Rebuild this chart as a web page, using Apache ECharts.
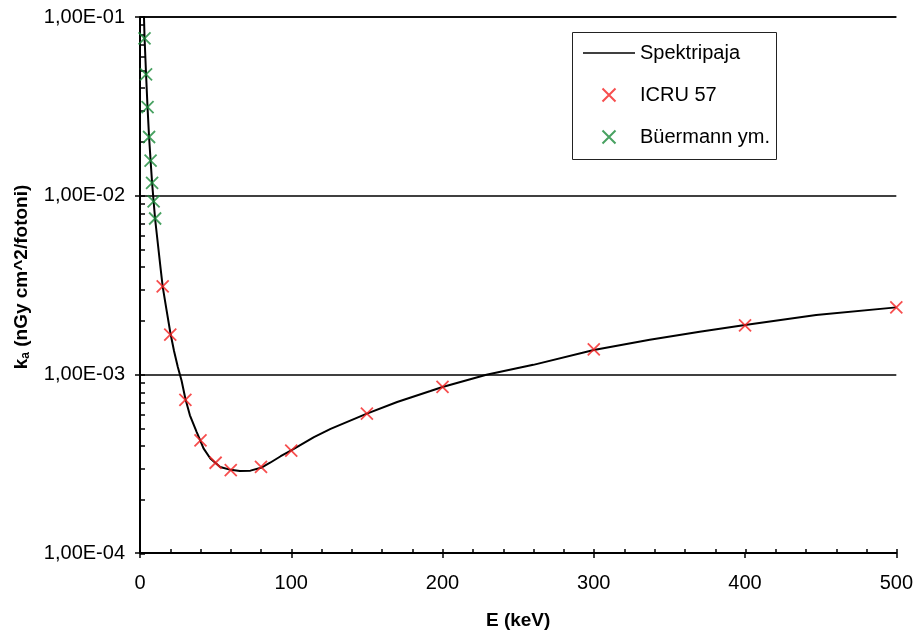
<!DOCTYPE html>
<html>
<head>
<meta charset="utf-8">
<script src="https://cdn.jsdelivr.net/npm/echarts@6/dist/echarts.min.js"></script>
<style>
html,body{margin:0;padding:0;background:#fff;}
#c{width:916px;height:635px;}
</style>
</head>
<body>
<div id="c"></div>
<script>
// Spektripaja (calculated curve)
const lineE = [2.5, 3, 4, 5, 6, 7, 8, 9, 10, 11, 13.5, 15, 17.5, 20, 22.5, 25, 27.5, 30, 33, 37.5, 42, 46.5, 53, 60, 66, 73, 80, 86, 93, 100, 115, 126, 150, 170, 192, 200, 229, 260, 300, 337, 370, 400, 447, 500];
const lineK = [0.11, 0.077, 0.048, 0.031, 0.0213, 0.0157, 0.0118, 0.0093, 0.0074, 0.0062, 0.0040, 0.0031, 0.0023, 0.00172, 0.00135, 0.00110, 0.00092, 0.00073, 0.00059, 0.000475, 0.000385, 0.000338, 0.000303, 0.000292, 0.000288, 0.000289, 0.000300, 0.000320, 0.000348, 0.000375, 0.000445, 0.000495, 0.000603, 0.000700, 0.000807, 0.000850, 0.000995, 0.00113, 0.00137, 0.00156, 0.00173, 0.00189, 0.00215, 0.00237];
// ICRU 57
const icruE = [15, 20, 30, 40, 50, 60, 80, 100, 150, 200, 300, 400, 500];
const icruK = [0.00311, 0.00167, 0.00072, 0.000427, 0.00032, 0.000291, 0.000303, 0.000374, 0.000603, 0.000852, 0.00138, 0.00188, 0.00237];
// Büermann ym.
const buerE = [3, 4, 5, 6, 7, 8, 9, 10];
const buerK = [0.076, 0.0478, 0.0313, 0.0213, 0.0157, 0.01178, 0.00929, 0.00745];
// axis tick labels
const xTickLabels = ['0', '100', '200', '300', '400', '500'];
const yTickLabels = ['1,00E-04', '1,00E-03', '1,00E-02', '1,00E-01'];

const zip = (a, b) => a.map((v, i) => [v, b[i]]);
const FONT = 'Liberation Sans';
const crossPath = 'path://M0,0L10,10M10,0L0,10';
const lineIcon = 'path://M0,0L52,0L52,1.6L0,1.6Z';

const chart = echarts.init(document.getElementById('c'), null, {renderer: 'canvas'});
const gridPos = {left: 140, right: 19, top: 17, bottom: 81};

const option = {
  backgroundColor: '#ffffff',
  animation: false,
  textStyle: {fontFamily: FONT},
  grid: [Object.assign({}, gridPos), Object.assign({}, gridPos)],
  graphic: [{
    type: 'rect', z: 3,
    shape: {x: 572.5, y: 32.5, width: 204, height: 127},
    style: {fill: '#ffffff', stroke: '#222', lineWidth: 1}
  }],
  legend: {
    orient: 'vertical', left: 583, top: 43, padding: 0,
    itemWidth: 52, itemHeight: 13, itemGap: 22, z: 5,
    textStyle: {fontFamily: FONT, fontSize: 20, color: '#000', lineHeight: 20},
    data: [{name: 'Spektripaja', icon: lineIcon}, 'ICRU 57', 'Büermann ym.']
  },
  xAxis: [{
    gridIndex: 0, type: 'value', min: 0, max: 500, interval: 100,
    name: 'E (keV)', nameLocation: 'middle', nameGap: 58,
    nameTextStyle: {fontFamily: FONT, fontSize: 19, fontWeight: 'bold', color: '#000'},
    axisLine: {show: true, onZero: false, lineStyle: {color: '#000', width: 2}},
    axisTick: {show: true, inside: false, length: 5, lineStyle: {color: '#000', width: 1.5}},
    minorTick: {show: false},
    splitLine: {show: false},
    axisLabel: {fontFamily: FONT, fontSize: 20, color: '#000', margin: 20,
      formatter: v => xTickLabels[Math.round(v / 100)]}
  }, {
    gridIndex: 1, type: 'value', min: 0, max: 500, interval: 100,
    axisLine: {show: false, onZero: false},
    axisTick: {show: true, inside: true, length: 5, lineStyle: {color: '#000', width: 1.5}},
    minorTick: {show: true, splitNumber: 5, length: 5, lineStyle: {color: '#000', width: 1.5}},
    splitLine: {show: false},
    axisLabel: {show: false}
  }],
  yAxis: [{
    gridIndex: 0, type: 'log', logBase: 10, min: 0.0001, max: 0.1,
    name: '{k|k}{a|a}{t| (nGy cm^2/fotoni)}', nameLocation: 'middle', nameGap: 108, nameRotate: 90,
    nameTextStyle: {fontFamily: FONT, fontSize: 19, fontWeight: 'bold', color: '#000', padding: [0, 0, 0, 16],
      rich: {
        k: {fontFamily: FONT, fontSize: 19, fontWeight: 'bold', color: '#000'},
        a: {fontFamily: FONT, fontSize: 12, fontWeight: 'bold', color: '#000', verticalAlign: 'bottom', padding: [8, 0, 0, 0]},
        t: {fontFamily: FONT, fontSize: 19, fontWeight: 'bold', color: '#000'}
      }},
    axisLine: {show: true, onZero: false, lineStyle: {color: '#000', width: 2}},
    axisTick: {show: true, inside: false, length: 5, lineStyle: {color: '#000', width: 1.5}},
    splitLine: {show: true, lineStyle: {color: '#000', width: 1.5}},
    axisLabel: {fontFamily: FONT, fontSize: 20, color: '#000', margin: 15,
      formatter: v => yTickLabels[Math.round(Math.log10(v)) + 4]}
  }, {
    gridIndex: 1, type: 'log', logBase: 10, min: 0.0001, max: 0.1,
    axisLine: {show: false, onZero: false},
    axisTick: {show: true, inside: true, length: 5, lineStyle: {color: '#000', width: 1.5}},
    minorTick: {show: true, splitNumber: 9, length: 5, lineStyle: {color: '#000', width: 1.5}},
    splitLine: {show: false},
    axisLabel: {show: false}
  }],
  series: [{
    name: 'Spektripaja', type: 'line', xAxisIndex: 0, yAxisIndex: 0,
    data: zip(lineE, lineK), showSymbol: false, symbol: 'none', smooth: false,
    lineStyle: {color: '#000', width: 2}, itemStyle: {color: '#000'}, z: 3
  }, {
    name: 'ICRU 57', type: 'scatter', xAxisIndex: 0, yAxisIndex: 0,
    data: zip(icruE, icruK), symbol: crossPath, symbolSize: 12, clip: false,
    itemStyle: {color: '#f52222', borderColor: '#f52222', borderWidth: 1.8}, z: 4
  }, {
    name: 'Büermann ym.', type: 'scatter', xAxisIndex: 0, yAxisIndex: 0,
    data: zip(buerE, buerK), symbol: crossPath, symbolSize: 12, clip: false,
    itemStyle: {color: '#1a8a3a', borderColor: '#1a8a3a', borderWidth: 1.8}, z: 4
  }]
};
chart.setOption(option);
</script>
</body>
</html>
